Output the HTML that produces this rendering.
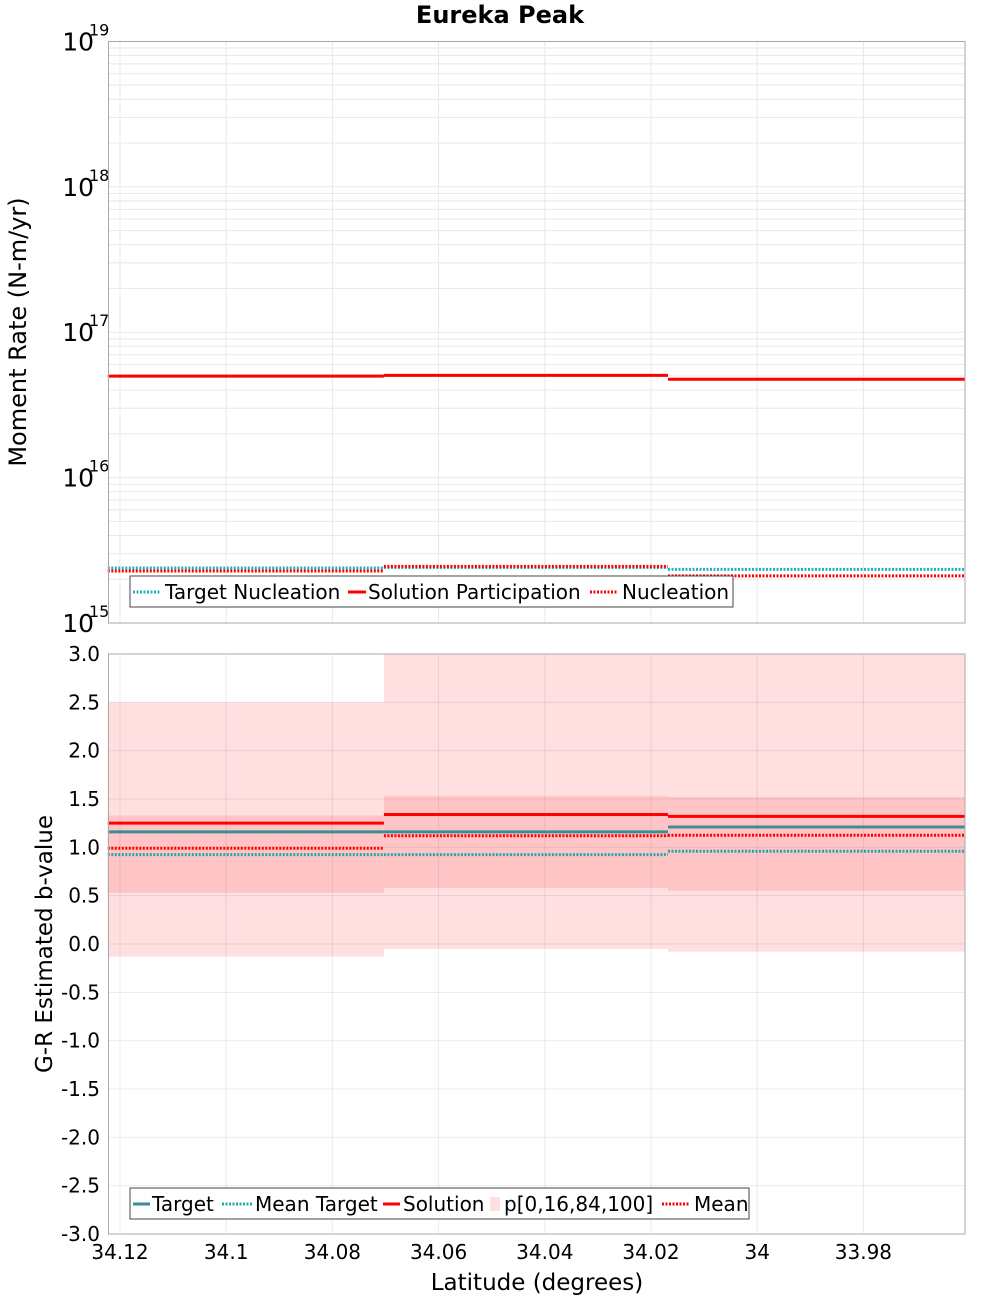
<!DOCTYPE html>
<html><head><meta charset="utf-8"><style>
body{margin:0;background:#fff;}
svg{display:block;font-family:"DejaVu Sans","Liberation Sans",sans-serif;}
</style></head><body>
<svg id="c" width="1000" height="1300"></svg>
<script>
const latTicks=[34.12,34.1,34.08,34.06,34.04,34.02,34,33.98];
const latTickLabels=["34.12","34.1","34.08","34.06","34.04","34.02","34","33.98"];
const segEdges=[34.1223,34.0703,34.0168,33.9609];
const solutionParticipation=[4.99e16,5.05e16,4.75e16];
const targetNucleation=[2.39e15,2.41e15,2.34e15];
const nucleation=[2.28e15,2.45e15,2.11e15];
const logDecades=[15,16,17,18,19];
const bTicks=[3,2.5,2,1.5,1,0.5,0,-0.5,-1,-1.5,-2,-2.5,-3];
const bTickLabels=["3.0","2.5","2.0","1.5","1.0","0.5","0.0","-0.5","-1.0","-1.5","-2.0","-2.5","-3.0"];
const bP0=[-0.13,-0.05,-0.08];
const bP100=[2.5,3.0,3.0];
const bP16=[0.53,0.58,0.55];
const bP84=[1.33,1.53,1.52];
const bSolution=[1.25,1.34,1.32];
const bTarget=[1.16,1.16,1.21];
const bMean=[0.99,1.12,1.125];
const bMeanTarget=[0.925,0.925,0.96];

const NS="http://www.w3.org/2000/svg";
const svg=document.getElementById('c');
function mk(tag,attrs,parent,text){const e=document.createElementNS(NS,tag);for(const k in attrs)e.setAttribute(k,attrs[k]);if(text!==undefined)e.textContent=text;(parent||svg).appendChild(e);return e;}
const L=108.5,R=965,T1=41.5,B1=623,T2=654,B2=1234;
const X=v=>120+(34.12-v)/0.02*106.2;
const Y1=v=>B1-(Math.log10(v)-15)*145.4;
const Y2=v=>T2+(3-v)*(B2-T2)/6;
const GRID="#e8e8e8";

let t=mk('text',{x:500,y:23,'text-anchor':'middle','font-size':24,'font-weight':'bold'},svg,'Eureka Peak');


let g1=mk('g',{});
for(let d=15;d<19;d++)for(let m=2;m<10;m++){let y=Y1(m*Math.pow(10,d));let l=mk('line',{x1:L,x2:R,y1:y,y2:y,stroke:GRID,'stroke-width':1},g1);}
logDecades.forEach(d=>{let y=Y1(Math.pow(10,d));let l=mk('line',{x1:L,x2:R,y1:y,y2:y,stroke:GRID},g1);
 let tx=mk('text',{x:94,y:y+9,'text-anchor':'end','font-size':25},g1,'10');
 let ex=mk('text',{x:89,y:y-6,'font-size':16},g1,String(d));});
latTicks.forEach(v=>{let l=mk('line',{x1:X(v),x2:X(v),y1:T1,y2:B1,stroke:GRID},g1);});
function steps(g,arr,Y,color,w,dash,name){for(let i=0;i<arr.length;i++){let l=mk('line',{x1:X(segEdges[i]),x2:X(segEdges[i+1]),y1:Y(arr[i]),y2:Y(arr[i]),stroke:color,'stroke-width':w},g);if(dash)l.setAttribute('stroke-dasharray',dash);}}
steps(g1,targetNucleation,Y1,'#1fb3b8',3,'2 1.5','target-nucleation-line');
steps(g1,solutionParticipation,Y1,'#ff0000',3,null,'solution-participation-line');
steps(g1,nucleation,Y1,'#ff0000',3,'2 1.5','nucleation-line');
let fr=mk('rect',{x:L,y:T1,width:R-L,height:B1-T1,fill:'none',stroke:'#aaa'},g1);
let yt=mk('text',{x:26,y:332,'text-anchor':'middle','font-size':24,transform:'rotate(-90 26 332)'},g1,'Moment Rate (N-m/yr)');
let lg1=mk('g',{});
mk('rect',{x:130,y:576,width:603,height:31,fill:'#fff',stroke:'#444'},lg1);
[[133,28,'#1fb3b8','2 1.5','Target Nucleation',165],[348,18,'#ff0000',null,'Solution Participation',368],[590,28,'#ff0000','2 1.5','Nucleation',622]].forEach(([x,w,c,d,s,tx])=>{let e=mk('g',{},lg1);let l=mk('line',{x1:x,x2:x+w,y1:592,y2:592,stroke:c,'stroke-width':3},e);if(d)l.setAttribute('stroke-dasharray',d);mk('text',{x:tx,y:599,'font-size':20},e,s);});

let g2=mk('g',{});
for(let i=0;i<3;i++){let r=mk('rect',{x:X(segEdges[i]),width:X(segEdges[i+1])-X(segEdges[i]),y:Y2(bP100[i]),height:Y2(bP0[i])-Y2(bP100[i]),fill:'#ffdfe0'},g2);
 let r2=mk('rect',{x:X(segEdges[i]),width:X(segEdges[i+1])-X(segEdges[i]),y:Y2(bP84[i]),height:Y2(bP16[i])-Y2(bP84[i]),fill:'#ffc5c6'},g2);}
bTicks.forEach((v,i)=>{let y=Y2(v);let l=mk('line',{x1:L,x2:R,y1:y,y2:y,stroke:'rgba(0,0,0,0.08)'},g2);
 let tx=mk('text',{x:100,y:y+7,'text-anchor':'end','font-size':20},g2,bTickLabels[i]);});
latTicks.forEach((v,i)=>{let l=mk('line',{x1:X(v),x2:X(v),y1:T2,y2:B2,stroke:'rgba(0,0,0,0.08)'},g2);
 let tx=mk('text',{x:X(v),y:1259,'text-anchor':'middle','font-size':20},g2,latTickLabels[i]);});
steps(g2,bTarget,Y2,'#3a8f96',3,null,'target-line');
steps(g2,bMeanTarget,Y2,'#1fa8ad',3,'2 1.5','mean-target-line');
steps(g2,bSolution,Y2,'#ff0000',3,null,'solution-line');
steps(g2,bMean,Y2,'#ff0000',3,'2 1.5','mean-line');
let fr2=mk('rect',{x:L,y:T2,width:R-L,height:B2-T2,fill:'none',stroke:'#aaa'},g2);
let yt2=mk('text',{x:52,y:944,'text-anchor':'middle','font-size':23,transform:'rotate(-90 52 944)'},g2,'G-R Estimated b-value');
let xt=mk('text',{x:537,y:1290,'text-anchor':'middle','font-size':23},g2,'Latitude (degrees)');
let lg2=mk('g',{});
mk('rect',{x:130,y:1188,width:619,height:31,fill:'#fff',stroke:'#444'},lg2);
[[133,17,'#3a8f96',null,'Target','line',152],[222,30,'#1fa8ad','2 1.5','Mean Target','line',255],[383,17,'#ff0000',null,'Solution','line',403],[490,10,'#ffdfe0',null,'p[0,16,84,100]','box',504],[662,28,'#ff0000','2 1.5','Mean','line',694]].forEach(([x,w,c,d,s,k,tx])=>{let e=mk('g',{},lg2);
 if(k==='box'){mk('rect',{x:x,y:1197,width:w,height:14,fill:c},e);}
 else{let l=mk('line',{x1:x,x2:x+w,y1:1204,y2:1204,stroke:c,'stroke-width':3},e);if(d)l.setAttribute('stroke-dasharray',d);}
 mk('text',{x:tx,y:1211,'font-size':20},e,s);});
</script>
</body></html>
